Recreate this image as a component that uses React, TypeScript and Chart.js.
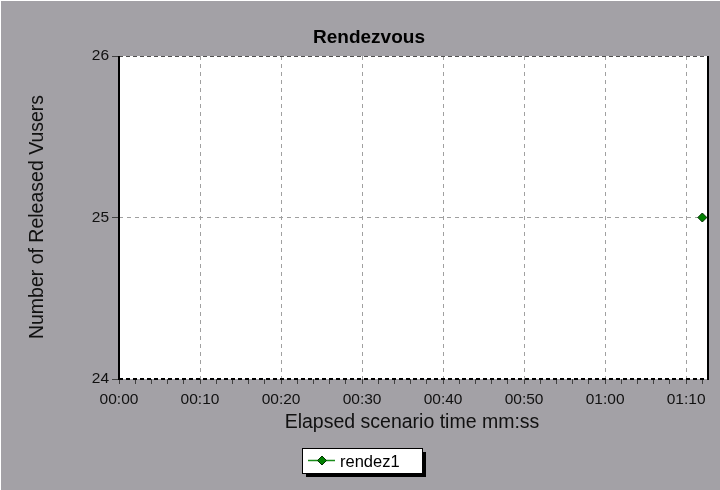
import React, { useEffect, useRef } from "react";
import { Chart, registerables } from "chart.js";

Chart.register(...registerables);

const TITLE = "Rendezvous";
const X_TITLE = "Elapsed scenario time mm:ss";
const Y_TITLE = "Number of Released Vusers";
const SERIES_LABEL = "rendez1";

// elapsed seconds
const X_VALUES = [72];
const Y_VALUES = [25];

const X_MIN = 0;
const X_MAX = 72.7;
const X_MAJOR_STEP = 10;
const X_MINOR_STEP = 2;
const X_TICK_LABELS = ["00:00", "00:10", "00:20", "00:30", "00:40", "00:50", "01:00", "01:10"];
const Y_MIN = 24;
const Y_MAX = 26;
const Y_TICK_LABELS = ["24", "25", "26"];

const BG = "#a3a1a6";
const GREEN = "#008000";
const FONT = "'Liberation Sans', Arial, sans-serif";

export default function App() {
  const ref = useRef<HTMLCanvasElement | null>(null);

  useEffect(() => {
    document.body.style.margin = "0";
    const canvas = ref.current;
    if (!canvas) return;

    const decor = {
      id: "decor",
      beforeDraw(chart: any) {
        const { ctx, chartArea: a, width, height } = chart;
        ctx.save();
        ctx.fillStyle = BG;
        ctx.fillRect(0, 0, width, height);
        ctx.fillStyle = "#ffffff";
        ctx.fillRect(0, 0, width, 1);
        ctx.fillRect(0, 0, 1, height);
        ctx.fillRect(a.left, a.top, a.right - a.left, a.bottom - a.top);
        ctx.restore();
      },
      beforeDatasetsDraw(chart: any) {
        const { ctx, chartArea: a } = chart;
        ctx.save();
        ctx.strokeStyle = "#505050";
        ctx.lineWidth = 1;
        ctx.setLineDash([4, 3]);
        ctx.beginPath();
        ctx.moveTo(a.left, a.top + 0.5);
        ctx.lineTo(a.right, a.top + 0.5);
        ctx.stroke();
        ctx.strokeStyle = "#000000";
        ctx.lineWidth = 2;
        ctx.beginPath();
        ctx.moveTo(a.left, a.bottom);
        ctx.lineTo(a.right, a.bottom);
        ctx.stroke();
        ctx.setLineDash([]);
        ctx.lineWidth = 2;
        ctx.beginPath();
        ctx.moveTo(a.left, a.top);
        ctx.lineTo(a.left, a.bottom + 1);
        ctx.moveTo(a.right, a.top);
        ctx.lineTo(a.right, a.bottom + 1);
        ctx.stroke();
        ctx.restore();
      },
      afterDraw(chart: any) {
        const { ctx } = chart;
        ctx.save();
        ctx.fillStyle = "#000";
        ctx.font = `bold 19px ${FONT}`;
        ctx.textAlign = "center";
        ctx.textBaseline = "alphabetic";
        ctx.fillText(TITLE, 369, 43);
        ctx.fillStyle = "#111";
        ctx.font = `19.5px ${FONT}`;
        ctx.fillText(X_TITLE, 412, 428);
        ctx.save();
        ctx.translate(43, 217);
        ctx.rotate(-Math.PI / 2);
        ctx.fillText(Y_TITLE, 0, 0);
        ctx.restore();
        // legend
        const bx = 302, by = 448, bw = 120, bh = 25;
        ctx.fillStyle = "#000";
        ctx.fillRect(bx + 4, by + 4, bw, bh);
        ctx.fillStyle = "#fff";
        ctx.fillRect(bx, by, bw, bh);
        ctx.strokeStyle = "#000";
        ctx.lineWidth = 1;
        ctx.strokeRect(bx + 0.5, by + 0.5, bw, bh);
        const ly = 460.5;
        ctx.strokeStyle = "#1a8c1a";
        ctx.lineWidth = 1.5;
        ctx.beginPath();
        ctx.moveTo(308, ly);
        ctx.lineTo(335, ly);
        ctx.stroke();
        ctx.fillStyle = GREEN;
        ctx.strokeStyle = "#003000";
        ctx.lineWidth = 1;
        ctx.beginPath();
        ctx.moveTo(322, ly - 4.5);
        ctx.lineTo(326.5, ly);
        ctx.lineTo(322, ly + 4.5);
        ctx.lineTo(317.5, ly);
        ctx.closePath();
        ctx.fill();
        ctx.stroke();
        ctx.fillStyle = "#000";
        ctx.font = `16.5px ${FONT}`;
        ctx.textAlign = "left";
        ctx.fillText(SERIES_LABEL, 340, 467);
        ctx.restore();
      },
    };

    const chart = new Chart(canvas, {
      type: "line",
      data: {
        datasets: [
          {
            label: SERIES_LABEL,
            data: X_VALUES.map((x, i) => ({ x, y: Y_VALUES[i] })),
            borderColor: "#1a8c1a",
            backgroundColor: GREEN,
            pointStyle: "rectRot",
            pointRadius: 4.5,
            pointBorderColor: "#003000",
            pointBorderWidth: 1,
            pointBackgroundColor: GREEN,
            borderWidth: 1.5,
          },
        ],
      },
      options: {
        responsive: false,
        animation: false,
        devicePixelRatio: 1,
        layout: { padding: { left: 0, top: 56, right: 12, bottom: 0 } },
        plugins: {
          legend: { display: false },
          title: { display: false },
          tooltip: { enabled: false },
        },
        scales: {
          x: {
            type: "linear",
            min: X_MIN,
            max: X_MAX,
            afterBuildTicks(scale: any) {
              const t: any[] = [];
              for (let v = X_MIN; v <= X_MAX; v += X_MINOR_STEP) t.push({ value: v });
              scale.ticks = t;
            },
            afterFit(scale: any) {
              scale.height = 111;
            },
            border: { display: false, dash: [4, 4] },
            grid: {
              color: (c: any) =>
                c.tick && c.tick.value % X_MAJOR_STEP === 0 && c.tick.value !== X_MIN ? "#a0a0a0" : "rgba(0,0,0,0)",
              tickColor: "#404040",
              tickLength: 5,
              lineWidth: 1,
            },
            ticks: {
              autoSkip: false,
              maxRotation: 0,
              padding: 6,
              color: "#111",
              font: { family: FONT, size: 15.5 },
              callback: (v: any) => {
                const n = Number(v);
                return n % X_MAJOR_STEP === 0 ? X_TICK_LABELS[n / X_MAJOR_STEP] ?? "" : "";
              },
            },
          },
          y: {
            type: "linear",
            min: Y_MIN,
            max: Y_MAX,
            afterFit(scale: any) {
              scale.width = 119;
            },
            border: { display: false, dash: [4, 4] },
            grid: {
              color: (c: any) =>
                c.tick && c.tick.value !== Y_MIN && c.tick.value !== Y_MAX ? "#a0a0a0" : "rgba(0,0,0,0)",
              tickColor: "#404040",
              tickLength: 7,
              lineWidth: 1,
            },
            ticks: {
              stepSize: 1,
              padding: 3,
              color: "#111",
              font: { family: FONT, size: 15.5 },
              callback: (v: any) => Y_TICK_LABELS[Number(v) - Y_MIN] ?? "",
            },
          },
        },
      },
      plugins: [decor],
    });
    return () => chart.destroy();
  }, []);

  return (
    <div style={{ position: "absolute", left: 0, top: 0, width: 720, height: 490 }}>
      <canvas ref={ref} width={720} height={490} />
    </div>
  );
}
